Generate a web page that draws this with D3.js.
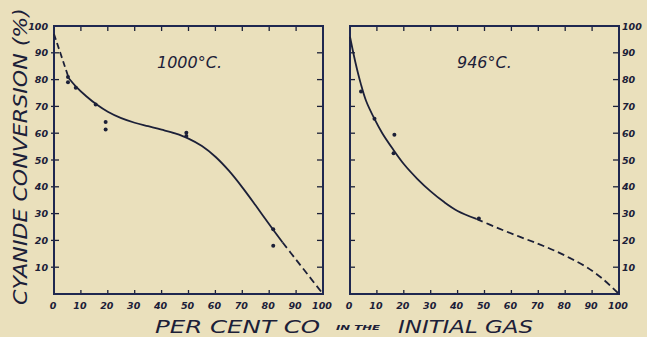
<!DOCTYPE html>
<html>
<head>
<meta charset="utf-8">
<script src="https://cdn.jsdelivr.net/npm/d3@7"></script>
<style>
  body { margin: 0; background: #eae0bc; }
  svg { display: block; }
  text { font-family: "DejaVu Sans", sans-serif; font-style: italic; fill: #1c2038; }
</style>
</head>
<body>
<svg id="chart" width="647" height="337"></svg>
<script>
const xTicks = [0, 10, 20, 30, 40, 50, 60, 70, 80, 90, 100];
const yTicks = [10, 20, 30, 40, 50, 60, 70, 80, 90, 100];

// 1000 C panel
const curve1000_head = [[0, 97], [2, 91], [4, 85], [5.5, 80.5]];
const curve1000_body = [[5.5, 80.5], [8, 77.6], [12, 73.8], [16, 70.6], [20, 68], [25, 65.6], [30, 63.9], [35, 62.6], [40, 61.3], [45, 59.9], [50, 58], [55, 55.2], [60, 51.2], [65, 46], [70, 39.8], [75, 33], [80, 26], [85, 19.2]];
const curve1000_tail = [[85, 19.2], [90, 12.8], [95, 6.4], [100, 0]];
const points1000 = [[5.2, 81], [5.2, 79], [8.1, 77], [15.5, 70.7], [19.2, 64.2], [19.2, 61.4], [49.2, 60.2], [49.2, 59], [81.5, 24.2], [81.5, 18]];

// 946 C panel
const curve946_head = [];
const curve946_body = [[0, 96], [2, 86.5], [4, 78.5], [6, 72], [9, 65.5], [12, 60], [16, 54], [20, 48.5], [25, 43], [30, 38.3], [35, 34.3], [40, 31], [47, 28]];
const curve946_tail = [[47, 28], [55, 24.6], [63, 21.4], [70, 18.7], [76, 16.2], [82, 13.3], [88, 10], [94, 5.6], [100, 0]];
const points946 = [[4.1, 75.6], [9.1, 65.4], [16.5, 59.4], [16.2, 52.5], [47.9, 28.2]];

const ink = "#1c2038";
const frameCol = "#1f2850";
const svg = d3.select("#chart");

function drawPanel(opt) {
  const x = d3.scaleLinear().domain([0, 100]).range([opt.left, opt.right]);
  const y = d3.scaleLinear().domain([0, 100]).range([opt.bottom, opt.top]);
  const g = svg.append("g");

  // ticks on all four sides, pointing inward
  g.selectAll(".tt").data(xTicks.slice(1, -1)).enter().append("line")
    .attr("x1", d => x(d)).attr("x2", d => x(d))
    .attr("y1", opt.top).attr("y2", opt.top + 5)
    .attr("stroke", ink).attr("stroke-width", 1.3);
  g.selectAll(".tb").data(xTicks.slice(1, -1)).enter().append("line")
    .attr("x1", d => x(d)).attr("x2", d => x(d))
    .attr("y1", opt.bottom).attr("y2", opt.bottom - 4)
    .attr("stroke", ink).attr("stroke-width", 1.3);
  g.selectAll(".tl").data(yTicks.slice(0, -1)).enter().append("line")
    .attr("x1", opt.left - opt.leftOut).attr("x2", opt.left + 5)
    .attr("y1", d => y(d)).attr("y2", d => y(d))
    .attr("stroke", ink).attr("stroke-width", 1.3);
  g.selectAll(".tr").data(yTicks.slice(0, -1)).enter().append("line")
    .attr("x1", opt.right - 6).attr("x2", opt.right + opt.rightOut)
    .attr("y1", d => y(d)).attr("y2", d => y(d))
    .attr("stroke", ink).attr("stroke-width", 1.3);

  g.append("rect")
    .attr("x", opt.left).attr("y", opt.top)
    .attr("width", opt.right - opt.left).attr("height", opt.bottom - opt.top)
    .attr("fill", "none").attr("stroke", frameCol).attr("stroke-width", 2);

  // x tick labels
  g.selectAll(".xl").data(xTicks).enter().append("text")
    .attr("x", d => x(d) - 1).attr("y", 309)
    .attr("text-anchor", "middle")
    .attr("font-size", 9.5).attr("font-weight", "bold")
    .text(d => d);

  // y tick labels
  g.selectAll(".yl").data(yTicks).enter().append("text")
    .attr("x", opt.ylabX).attr("y", d => y(d) + 3.5)
    .attr("text-anchor", opt.ylabAnchor)
    .attr("font-size", 9.5).attr("font-weight", "bold")
    .text(d => d);

  const line = d3.line().x(d => x(d[0])).y(d => y(d[1])).curve(d3.curveCatmullRom.alpha(0.5));
  if (opt.head.length) {
    g.append("path").attr("d", line(opt.head)).attr("fill", "none")
      .attr("stroke", ink).attr("stroke-width", 1.8).attr("stroke-dasharray", "6,3.5");
  }
  g.append("path").attr("d", line(opt.body)).attr("fill", "none")
    .attr("stroke", ink).attr("stroke-width", 1.8);
  g.append("path").attr("d", line(opt.tail)).attr("fill", "none")
    .attr("stroke", ink).attr("stroke-width", 1.8).attr("stroke-dasharray", "7,4");

  g.selectAll(".pt").data(opt.points).enter().append("circle")
    .attr("cx", d => x(d[0])).attr("cy", d => y(d[1]))
    .attr("r", 2).attr("fill", ink);

  g.append("text")
    .attr("x", opt.titleX).attr("y", 68)
    .attr("font-size", 16)
    .text(opt.title);
}

drawPanel({
  left: 54, right: 323, top: 26, bottom: 294, leftOut: 3, rightOut: 0,
  ylabX: 48, ylabAnchor: "end",
  head: curve1000_head, body: curve1000_body, tail: curve1000_tail,
  points: points1000, title: "1000°C.", titleX: 157
});
drawPanel({
  left: 350, right: 619, top: 26, bottom: 294, leftOut: 0, rightOut: 1,
  ylabX: 622, ylabAnchor: "start",
  head: curve946_head, body: curve946_body, tail: curve946_tail,
  points: points946, title: "946°C.", titleX: 457
});

// axis titles
svg.append("text")
  .attr("transform", "translate(27,305) rotate(-90)")
  .attr("font-size", 19)
  .attr("textLength", 297).attr("lengthAdjust", "spacingAndGlyphs")
  .text("CYANIDE CONVERSION (%)");

svg.append("text")
  .attr("x", 155).attr("y", 333)
  .attr("font-size", 17)
  .attr("textLength", 165).attr("lengthAdjust", "spacingAndGlyphs")
  .text("PER CENT CO");
svg.append("text")
  .attr("x", 336).attr("y", 330)
  .attr("font-size", 7).attr("font-weight", "bold")
  .attr("textLength", 44).attr("lengthAdjust", "spacingAndGlyphs")
  .text("IN THE");
svg.append("text")
  .attr("x", 398).attr("y", 333)
  .attr("font-size", 17)
  .attr("textLength", 135).attr("lengthAdjust", "spacingAndGlyphs")
  .text("INITIAL GAS");
</script>
</body>
</html>
